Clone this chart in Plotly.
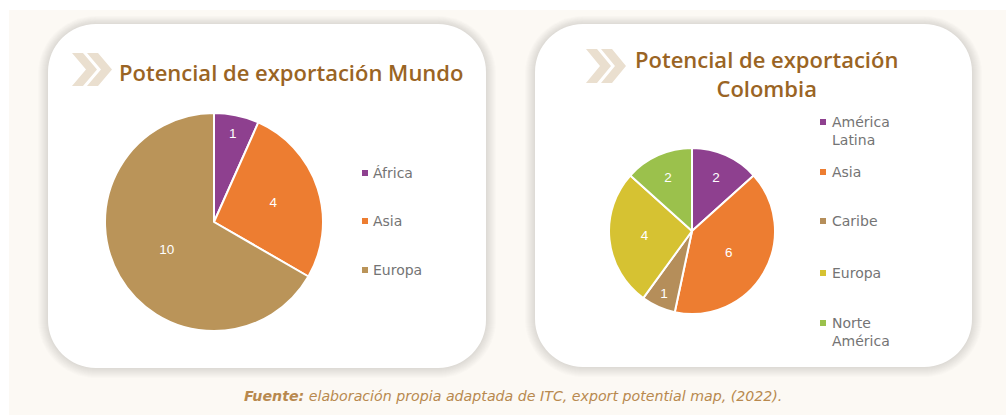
import plotly.graph_objects as go

W, H = 1006, 415

# ---------------- data ----------------
world_labels = ["África", "Asia", "Europa"]
world_values = [1, 4, 10]
world_colors = ["#8E408F", "#ED7D31", "#BA9459"]

col_labels = ["América Latina", "Asia", "Caribe", "Europa", "Norte América"]
col_legend_text = ["América<br>Latina", "Asia", "Caribe", "Europa", "Norte<br>América"]
col_values = [2, 6, 1, 4, 2]
col_colors = ["#8E408F", "#ED7D31", "#B58E5A", "#D6C232", "#9BC14C"]

title_world = "Potencial de exportación Mundo"
title_col = "Potencial de exportación<br>Colombia"
source_text = ("<b><i>Fuente:</i></b><i> elaboración propia adaptada de ITC, "
               "export potential map, (2022).</i>")


# ---------------- helpers (pixel -> paper) ----------------
def px(x):
    return x / W


def py(y):
    return 1 - y / H


def rrect(x0, y0, x1, y1, r):
    k = 0.5523 * r
    P = lambda x, y: f"{px(x):.5f},{py(y):.5f}"
    return (
        f"M {P(x0 + r, y0)} L {P(x1 - r, y0)} "
        f"C {P(x1 - r + k, y0)} {P(x1, y0 + r - k)} {P(x1, y0 + r)} "
        f"L {P(x1, y1 - r)} "
        f"C {P(x1, y1 - r + k)} {P(x1 - r + k, y1)} {P(x1 - r, y1)} "
        f"L {P(x0 + r, y1)} "
        f"C {P(x0 + r - k, y1)} {P(x0, y1 - r + k)} {P(x0, y1 - r)} "
        f"L {P(x0, y0 + r)} "
        f"C {P(x0, y0 + r - k)} {P(x0 + r - k, y0)} {P(x0 + r, y0)} Z"
    )


def chevron(x, ytop, ybot, w=11, d=14):
    ym = (ytop + ybot) / 2
    pts = [(x, ytop), (x + w, ytop), (x + w + d, ym), (x + w, ybot), (x, ybot), (x + d, ym)]
    s = "M " + " L ".join(f"{px(a):.5f},{py(b):.5f}" for a, b in pts) + " Z"
    return s


shapes = []
# cream background
shapes.append(dict(type="rect", xref="paper", yref="paper", x0=px(9), x1=1, y0=0, y1=py(10),
                   fillcolor="#FCF9F4", line=dict(width=0), layer="below"))

cards = [(48, 24, 486, 368), (535, 24, 972, 367)]
for (x0, y0, x1, y1) in cards:
    for i in range(10, 0, -1):
        shapes.append(dict(type="path", xref="paper", yref="paper",
                           path=rrect(x0 - i, y0 - i * 0.8, x1 + i, y1 + i, 48 + i),
                           fillcolor="rgba(115,112,108,0.02)", line=dict(width=0), layer="below"))
    shapes.append(dict(type="path", xref="paper", yref="paper", path=rrect(x0, y0, x1, y1, 48),
                       fillcolor="#FFFFFF", line=dict(width=0), layer="below"))

# chevrons
chev_color = "#EADFCF"
for cx, yt, yb in [(72, 53, 86), (87, 53, 86), (586, 49, 83), (601, 49, 83)]:
    shapes.append(dict(type="path", xref="paper", yref="paper", path=chevron(cx, yt, yb),
                       fillcolor=chev_color, line=dict(width=0), layer="below"))

annotations = []
title_font = dict(family="Open Sans", size=22, color="#9A6424", weight=600)
annotations.append(dict(text=title_world, x=px(291), y=py(72), xref="paper", yref="paper",
                        showarrow=False, font=title_font, xanchor="center", yanchor="middle"))
annotations.append(dict(text=title_col, x=px(766), y=py(74), xref="paper", yref="paper",
                        showarrow=False, font=title_font, xanchor="center", yanchor="middle",
                        align="center"))

# legends (manual)
leg_font = dict(family="DejaVu Sans", size=14, color="#747474")


def add_legend(labels, colors, mx, tx, ys):
    for lab, c, y in zip(labels, colors, ys):
        shapes.append(dict(type="rect", xref="paper", yref="paper",
                           x0=px(mx), x1=px(mx + 6), y0=py(y + 3), y1=py(y - 3),
                           fillcolor=c, line=dict(width=0)))
        annotations.append(dict(text=lab, x=px(tx), y=py(y - 10), xref="paper", yref="paper",
                                showarrow=False, font=leg_font, xanchor="left", yanchor="top",
                                align="left"))


add_legend(world_labels, world_colors, 362, 371, [173, 221, 270])
add_legend(col_legend_text, col_colors, 820, 830, [122, 172, 221, 273, 323])

annotations.append(dict(text=source_text, x=px(513), y=py(396), xref="paper", yref="paper",
                        showarrow=False, xanchor="center", yanchor="middle",
                        font=dict(family="DejaVu Sans", size=14.2, color="#B8894F")))

fig = go.Figure()
pie_text_font = dict(family="Liberation Sans", size=13.5, color="#FFFFFF")

r1, c1 = 109, (214, 222)
fig.add_trace(go.Pie(labels=world_labels, values=world_values, sort=False, direction="clockwise",
                     rotation=0, marker=dict(colors=world_colors, line=dict(color="#FFFFFF", width=2)),
                     textinfo="value", textposition="inside", insidetextorientation="horizontal",
                     textfont=pie_text_font, showlegend=False,
                     domain=dict(x=[px(c1[0] - r1), px(c1[0] + r1)],
                                 y=[py(c1[1] + r1), py(c1[1] - r1)])))

r2, c2 = 83, (692, 231)
fig.add_trace(go.Pie(labels=col_labels, values=col_values, sort=False, direction="clockwise",
                     rotation=0, marker=dict(colors=col_colors, line=dict(color="#FFFFFF", width=2)),
                     textinfo="value", textposition="inside", insidetextorientation="horizontal",
                     textfont=pie_text_font, showlegend=False,
                     domain=dict(x=[px(c2[0] - r2), px(c2[0] + r2)],
                                 y=[py(c2[1] + r2), py(c2[1] - r2)])))

fig.update_layout(width=W, height=H, margin=dict(l=0, r=0, t=0, b=0),
                  paper_bgcolor="#FFFFFF", plot_bgcolor="#FFFFFF",
                  shapes=shapes, annotations=annotations, showlegend=False)

fig.write_html("out.html", config={"displayModeBar": False},
               post_script="document.body.style.margin='0';document.body.style.overflow='hidden';")
